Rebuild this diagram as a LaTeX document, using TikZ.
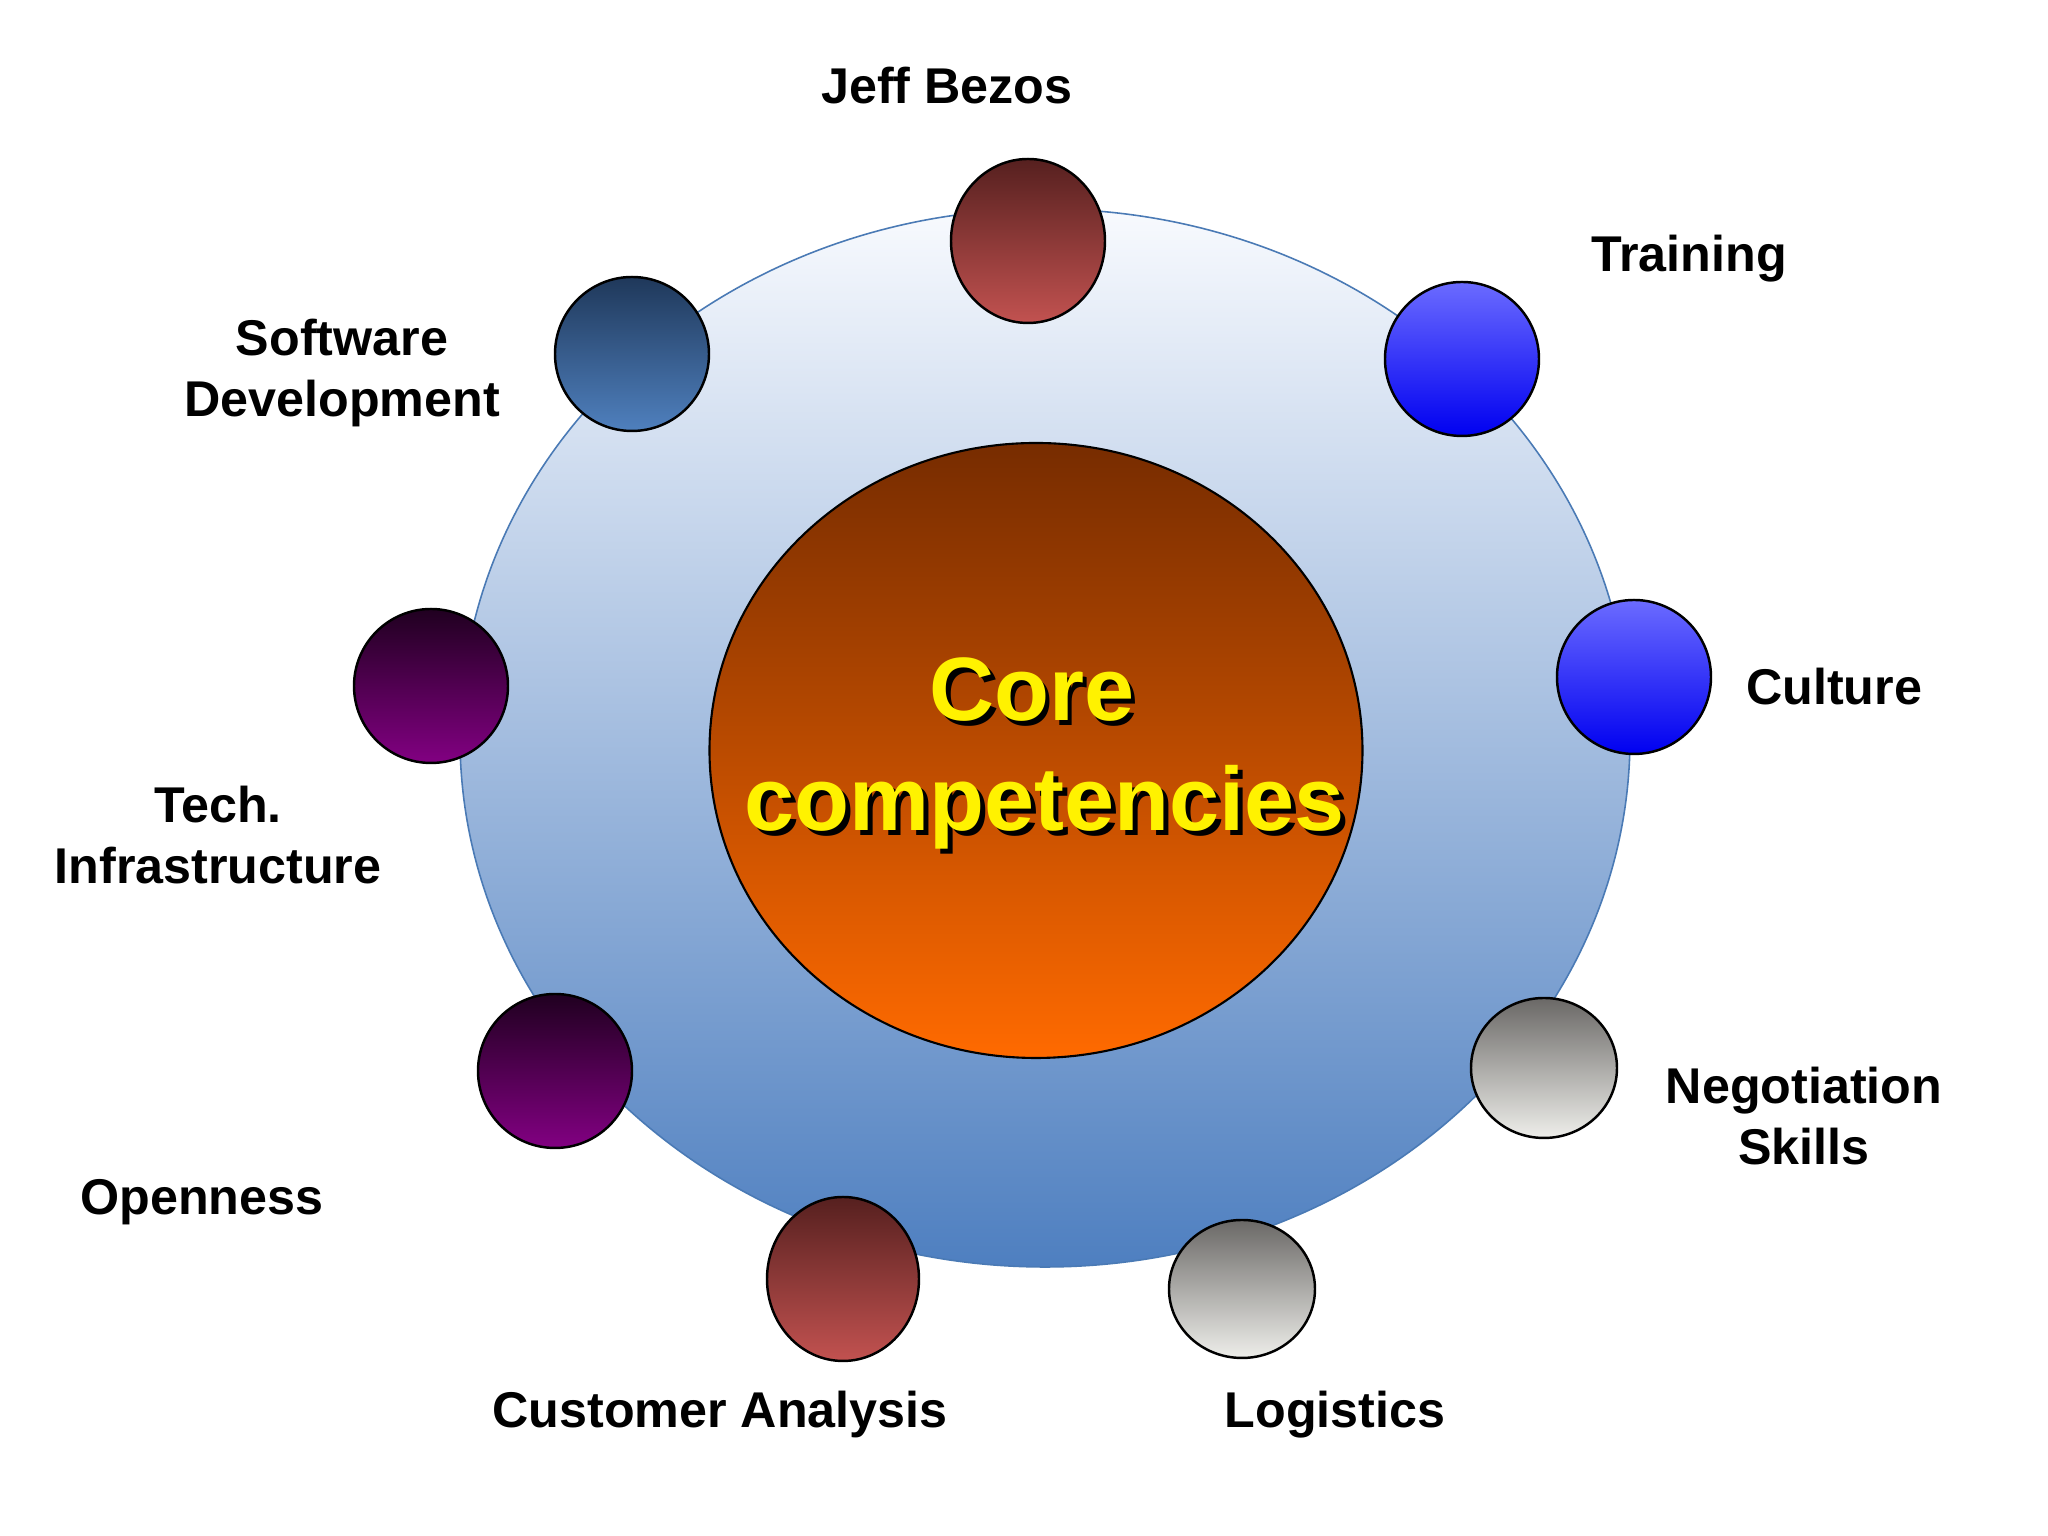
\documentclass[tikz,border=0pt]{standalone}
\usepackage{fontspec}
\setmainfont{Liberation Sans}
\usetikzlibrary{shapes.geometric}

\definecolor{ringtop}{HTML}{F8FAFE}
\definecolor{ringbot}{HTML}{4E7FC0}
\definecolor{ringline}{HTML}{4A7AB5}
\definecolor{coretop}{HTML}{772C00}
\definecolor{corebot}{HTML}{FF6A00}
\definecolor{redtop}{HTML}{56201F}
\definecolor{redbot}{HTML}{C25250}
\definecolor{bluetop}{HTML}{6B6BFF}
\definecolor{bluebot}{HTML}{0000F0}
\definecolor{greytop}{HTML}{6A6866}
\definecolor{greybot}{HTML}{EEEEEA}
\definecolor{purptop}{HTML}{200020}
\definecolor{purpbot}{HTML}{820082}
\definecolor{steeltop}{HTML}{1F385A}
\definecolor{steelbot}{HTML}{4F80BE}

\begin{document}
\begin{tikzpicture}[ball/.style={ellipse, draw=black, line width=0.7pt, inner sep=0pt, minimum width=1.54cm, minimum height=1.54cm},
	redball/.style={ball, top color=redtop, bottom color=redbot},
	blueball/.style={ball, top color=bluetop, bottom color=bluebot},
	greyball/.style={ball, top color=greytop, bottom color=greybot},
	purpball/.style={ball, top color=purptop, bottom color=purpbot},
	steelball/.style={ball, top color=steeltop, bottom color=steelbot},
	tag/.style={font=\fontsize{14.3}{17.4}\selectfont\bfseries, align=center, anchor=base, inner sep=0pt},
	coretext/.style={font=\fontsize{25.6}{31}\selectfont\bfseries, anchor=base, inner sep=0pt}]
	\path [use as bounding box, fill=white] (0,0) rectangle (20.48,15.36);
	%rings
		\node [ellipse, draw=ringline, line width=0.45pt, top color=ringtop, bottom color=ringbot, minimum width=11.70cm, minimum height=10.58cm] (ring) at (10.45,7.98) {};
		\node [ellipse, draw=black, line width=0.6pt, top color=coretop, bottom color=corebot, minimum width=6.53cm, minimum height=6.15cm] (core) at (10.36,7.855) {};
		%core text, shadow first
		\foreach \dx/\col in {0.045/black, 0/yellow} {
			\node [coretext, text=\col] (word1-\col) at (10.32+\dx,8.15-\dx) {Core};
			\node [coretext, text=\col] (word2-\col) at (10.45+\dx,7.05-\dx) {competencies};
		}
	%balls round the ring
		\node [redball, minimum height=1.64cm] (bezos) at (10.28,12.95) {};
		\node [blueball] (training) at (14.62,11.77) {};
		\node [blueball] (culture) at (16.34,8.59) {};
		\node [greyball, minimum width=1.46cm, minimum height=1.40cm] (negotiation) at (15.44,4.68) {};
		\node [greyball, minimum width=1.46cm, minimum height=1.38cm] (logistics) at (12.42,2.47) {};
		\node [redball, minimum width=1.52cm, minimum height=1.64cm] (customer) at (8.43,2.57) {};
		\node [purpball] (openness) at (5.55,4.65) {};
		\node [purpball] (tech) at (4.31,8.50) {};
		\node [steelball] (software) at (6.32,11.82) {};
	%labels (base is the last line)
		\node [tag] (bezos-t) at (9.47,14.32) {Jeff Bezos};
		\node [tag] (training-t) at (16.89,12.64) {Training};
		\node [tag] (culture-t) at (18.34,8.31) {Culture};
		\node [tag] (negotiation-t) at (18.04,3.71) {Negotiation\\Skills};
		\node [tag] (logistics-t) at (13.35,1.08) {Logistics};
		\node [tag] (customer-t) at (7.20,1.08) {Customer Analysis};
		\node [tag] (openness-t) at (2.02,3.21) {Openness};
		\node [tag] (tech-t) at (2.18,6.52) {Tech.\\Infrastructure};
		\node [tag] (software-t) at (3.42,11.19) {Software\\Development};
\end{tikzpicture}
\end{document}
